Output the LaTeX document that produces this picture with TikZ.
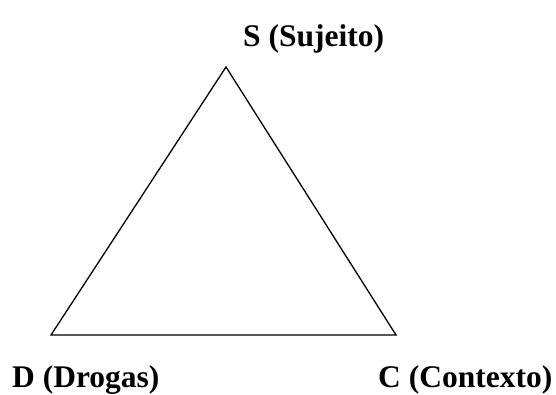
\documentclass[tikz,border=0pt]{standalone}
\usepackage{fontspec}
\setmainfont{Liberation Serif}
\begin{document}
\begin{tikzpicture}[x=1pt,y=1pt,
  lbl/.style={inner sep=0pt, anchor=base west, font=\fontsize{31.5}{36}\selectfont\bfseries},
  edge/.style={line width=1.3pt, line join=miter}]
\useasboundingbox (0,0) rectangle (556,394);
\coordinate (s) at (226,327);
\coordinate (d) at (51,59);
\coordinate (c) at (396,59);
\draw[edge] (s) -- (d) -- (c) -- cycle;
\node[lbl] (ls) at (243,347) {S (Sujeito)};
\node[lbl] (ld) at (12,7) {D (Drogas)};
\node[lbl] (lc) at (378,7) {C (Contexto)};
\end{tikzpicture}
\end{document}
